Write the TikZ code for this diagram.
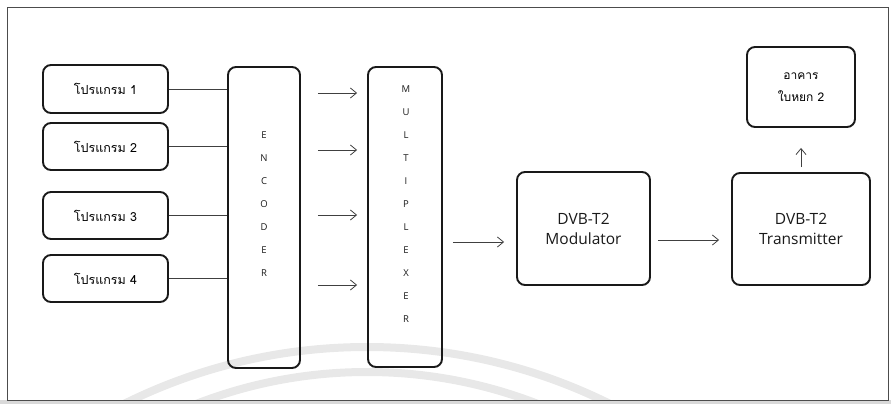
\documentclass[tikz,border=0pt]{standalone}
\usepackage{fontspec}
\setmainfont{Open Sans}
\newfontfamily\thaifont[Script=Thai]{Loma}
\usetikzlibrary{arrows.meta}
\begin{document}
\begin{tikzpicture}[x=1pt,y=-1pt,
  box/.style={draw=black!90, line width=1.9pt, rounded corners=8pt, inner sep=0pt},
  conn/.style={draw=black!75, line width=0.8pt},
  arr/.style={conn, -{Straight Barb[length=6pt,width=10pt]}},
  thai/.style={font=\thaifont\fontsize{12.5}{14}\selectfont},
  letters/.style={align=center, inner sep=0pt, text=black!90, font=\fontsize{9.5}{23}\selectfont},
  dvb/.style={align=center, text=black!90, font=\fontsize{15.5}{20}\selectfont}]
\useasboundingbox (0,0) rectangle (891,404);
% scanner shadow and watermark
\fill[black!15] (0,400) rectangle (891,404);
\begin{scope}
  \clip (7,7) rectangle (888,400);
  \draw[black!9, line width=8pt] (367,893) circle (546pt);
  \draw[black!9, line width=8pt] (367,843) circle (471pt);
\end{scope}
\draw[black!70, line width=0.8pt] (7,7) rectangle (888,400);
% program boxes
\node[box, minimum width=125pt, minimum height=48pt, thai] (p1) at (105.5,89) {โปรแกรม 1};
\node[box, minimum width=125pt, minimum height=47pt, thai] (p2) at (105.5,146.5) {โปรแกรม 2};
\node[box, minimum width=125pt, minimum height=47pt, thai] (p3) at (105.5,215.5) {โปรแกรม 3};
\node[box, minimum width=125pt, minimum height=47pt, thai] (p4) at (105.5,278.5) {โปรแกรม 4};
% encoder and multiplexer
\node[box, minimum width=72pt, minimum height=301pt] (enc) at (264,217.5) {};
\node[letters] (enctext) at (264,204) {E\\N\\C\\O\\D\\E\\R};
\node[box, minimum width=74pt, minimum height=300pt] (mux) at (405,217) {};
\node[letters] (muxtext) at (406,204) {M\\U\\L\\T\\I\\P\\L\\E\\X\\E\\R};
% modulator, transmitter, building
\node[box, minimum width=133pt, minimum height=113pt, dvb] (mod) at (583.5,228.5) {DVB-T2\\Modulator};
\node[box, minimum width=138pt, minimum height=112pt, dvb] (trans) at (801,229) {DVB-T2\\Transmitter};
\node[box, minimum width=108pt, minimum height=80pt, align=center, font=\thaifont\fontsize{12}{22}\selectfont] (bldg) at (801,87) {อาคาร\\ใบหยก 2};
% connectors
\draw[conn] (p1.east) -- (p1.east -| enc.west);
\draw[conn] (p2.east) -- (p2.east -| enc.west);
\draw[conn] (p3.east) -- (p3.east -| enc.west);
\draw[conn] (p4.east) -- (p4.east -| enc.west);
\coordinate (a1) at (0,93);
\coordinate (a2) at (0,150);
\coordinate (a3) at (0,215);
\coordinate (a4) at (0,285);
\foreach \a in {a1,a2,a3,a4}
  \draw[arr, shorten <=17pt, shorten >=10pt] (enc.east |- \a) -- (mux.west |- \a);
\coordinate (b1) at (0,242);
\draw[arr, shorten <=10pt, shorten >=12pt] (mux.east |- b1) -- (mod.west |- b1);
\coordinate (b2) at (0,240);
\draw[arr, shorten <=7pt, shorten >=12pt] (mod.east |- b2) -- (trans.west |- b2);
\draw[arr, shorten <=5pt, shorten >=20pt] (trans.north) -- (bldg.south);
\end{tikzpicture}
\end{document}
